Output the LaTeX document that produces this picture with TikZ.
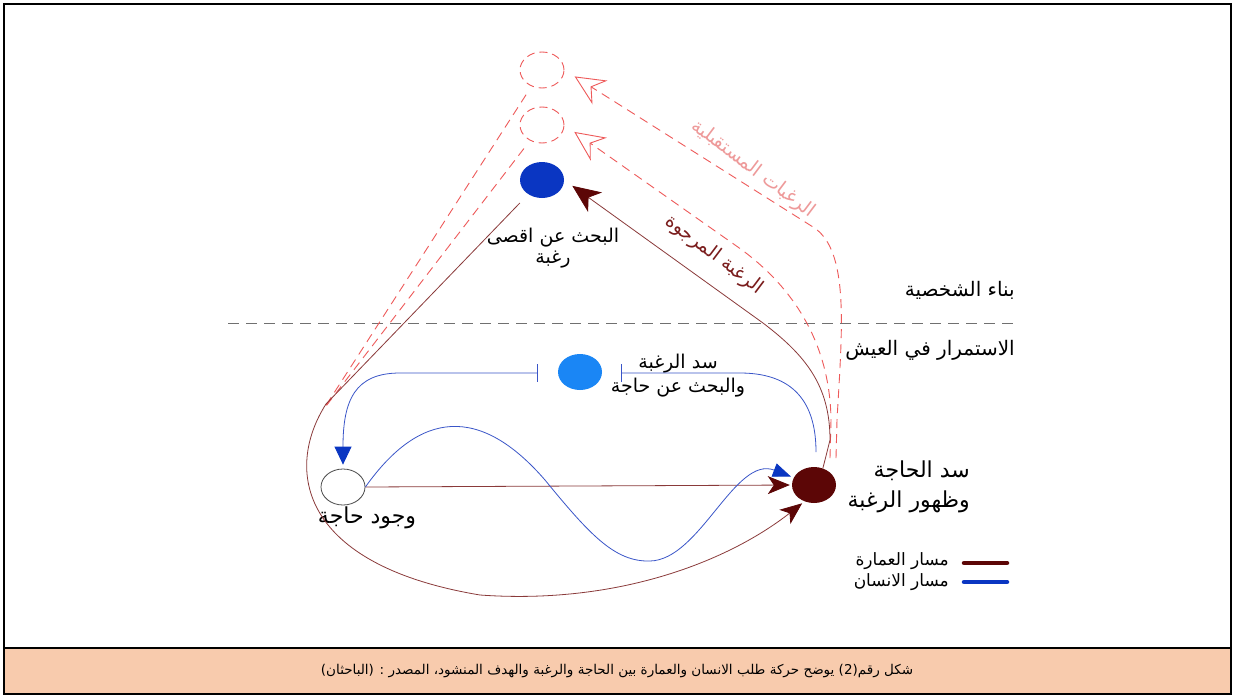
\documentclass[tikz,border=0pt]{standalone}
\usepackage{fontspec}
\usetikzlibrary{arrows.meta,shapes.geometric}
\TeXXeTstate=1
\newfontfamily\arabicfont[Script=Arabic]{DejaVu Sans}
\definecolor{dkred}{HTML}{5C0606}
\definecolor{brownline}{HTML}{8A3A3A}
\definecolor{blueline}{HTML}{3A55C8}
\definecolor{topblue}{HTML}{0A36C2}
\definecolor{midblue}{HTML}{1A86F5}
\definecolor{dashred}{HTML}{EE5A5A}
\definecolor{futtext}{HTML}{EE9A9A}
\definecolor{desired}{HTML}{7A1C1C}
\definecolor{peach}{HTML}{F8CBAD}
\definecolor{sepgray}{HTML}{707070}
\newcommand{\arf}[2]{\arabicfont\fontsize{#1}{#2}\selectfont}
\tikzset{
  lbl/.style={font=\arf{19}{22}, inner sep=1pt},
  dot/.style={ellipse, minimum width=44pt, minimum height=36pt, inner sep=0pt},
  brn/.style={draw=brownline, line width=0.8pt},
  blu/.style={draw=blueline, line width=0.8pt},
  rdash/.style={draw=dashred, line width=0.9pt, dash pattern=on 9pt off 6pt},
  redtip/.style={-{Stealth[length=22pt,width=18pt,inset=6pt,color=dkred,fill=dkred]}},
  bigredtip/.style={-{Stealth[length=28pt,width=24pt,inset=8pt,color=dkred,fill=dkred]}},
  opentip/.style={-{Stealth[open,length=30pt,width=28pt,inset=10pt,color=dashred,line width=0.9pt]}},
  legline/.style={line width=4.5pt, line cap=round}
}
\begin{document}
\begin{tikzpicture}[x=1pt,y=-1pt]
\useasboundingbox (0,0) rectangle (1235,697);
% frame and caption band
\fill[white] (0,0) rectangle (1235,697);
\fill[peach] (4,648) rectangle (1231,694);
\draw[line width=1.5pt] (4,4) rectangle (1231,694);
\draw[line width=1.5pt] (4,648) -- (1231,648);
\node[font=\arf{13.5}{16}] (cap) at (617,671)
  {\beginR شكل رقم(2) يوضح حركة طلب الانسان والعمارة بين الحاجة والرغبة والهدف المنشود، المصدر : (الباحثان)\endR};

% separator
\coordinate (sepL) at (228,323);
\coordinate (sepR) at (1015,323);
\draw[sepgray, line width=0.9pt, dash pattern=on 11pt off 7pt] (sepL) -- (sepR);

% nodes
\node[dot, fill=topblue] (top) at (542,180) {};
\node[dot, rdash, dash pattern=on 8pt off 5pt] (f1) at (542,70) {};
\node[dot, rdash, dash pattern=on 8pt off 5pt] (f2) at (542,125) {};
\node[dot, fill=midblue] (mid) at (580,372) {};
\node[dot, draw=black!70, line width=0.8pt, fill=white] (need) at (343,487) {};
\node[dot, fill=dkred] (sat) at (814,485) {};

% labels
\node[lbl, align=center, font=\arf{19}{21}] (ltop) at (553,248) {\beginR البحث عن اقصى\endR\\\beginR رغبة\endR};
\node[lbl, text=desired, rotate=-37] (ldes) at (714,255) {\beginR الرغبة المرجوة\endR};
\node[lbl, text=futtext, rotate=-37] (lfut) at (753,169) {\beginR الرغبات المستقبلية\endR};
\node[lbl, anchor=east, font=\arf{20}{22}] (lbuild) at (1016,290) {\beginR بناء الشخصية\endR};
\node[lbl, anchor=east, font=\arf{20}{22}] (llive) at (1016,350) {\beginR الاستمرار في العيش\endR};
\node[lbl, align=center, font=\arf{19}{24}] (lmid) at (678,376) {\beginR سد الرغبة\endR\\\beginR والبحث عن حاجة\endR};
\node[lbl, align=right, anchor=east, font=\arf{22}{30}] (lsat) at (971,487) {\beginR سد الحاجة\endR\\\beginR وظهور الرغبة\endR};
\node[lbl, font=\arf{22}{24}] (lneed) at (367,518) {\beginR وجود حاجة\endR};

% legend
\node[lbl, anchor=east, font=\arf{17}{19}] (leg1) at (950,561) {\beginR مسار العمارة\endR};
\node[lbl, anchor=east, font=\arf{17}{19}] (leg2) at (950,582) {\beginR مسار الانسان\endR};
\coordinate (l1a) at (964,563); \coordinate (l1b) at (1007,563);
\coordinate (l2a) at (964,582); \coordinate (l2b) at (1007,582);
\draw[legline, dkred] (l1a) -- (l1b);
\draw[legline, topblue] (l2a) -- (l2b);

% helper coordinates
\coordinate (conv) at (323,410);
\coordinate (barL) at (538,373);
\coordinate (barR) at (621,373);
\coordinate (bend) at (816,452);

% red dashed lines (future desires)
\draw[rdash, shorten <=10pt] (f1) -- (conv);
\draw[rdash, shorten <=10pt] (f2) -- (conv);
\draw[rdash, opentip, shorten >=12pt] (836,458) -- (837,420) .. controls (842,330) and (850,250) .. (813,227) -- (f1.east);
\draw[rdash, opentip, shorten >=12pt] (830,458) -- (831,420) .. controls (830,340) and (790,283) .. (735,245) -- (f2.east);

% brown paths (architecture)
\draw[brn, shorten <=12pt, redtip, shorten >=3pt] (top) -- (326,404) .. controls (284,470) and (300,565) .. (480,595) .. controls (620,605) and (730,560) .. (sat.240);
\draw[brn, bigredtip, shorten >=10pt] (sat.62) -- (830,440) .. controls (830,385) and (805,355) .. (763,323) -- (top.east);
\draw[brn, redtip, shorten >=2pt] (need.east) -- (sat.west);

% blue paths (human)
\draw[blu, {Bar[width=18pt,line width=0.9pt]}-{Triangle[length=18pt,width=17pt,color=topblue,fill=topblue]}, shorten >=4pt] (barL) -- (400,373) .. controls (355,373) and (343,400) .. (need.north);
\draw[blu, {Bar[width=18pt,line width=0.9pt]}-] (barR) -- (740,373) .. controls (800,373) and (816,410) .. (bend);
\draw[blu, -{Triangle[length=18pt,width=14pt,color=topblue,fill=topblue]}, shorten >=3pt] (need.east) .. controls (420,410) and (480,405) .. (545,480) .. controls (590,535) and (615,562) .. (650,561) .. controls (700,560) and (735,455) .. (sat.160);
\end{tikzpicture}
\end{document}
